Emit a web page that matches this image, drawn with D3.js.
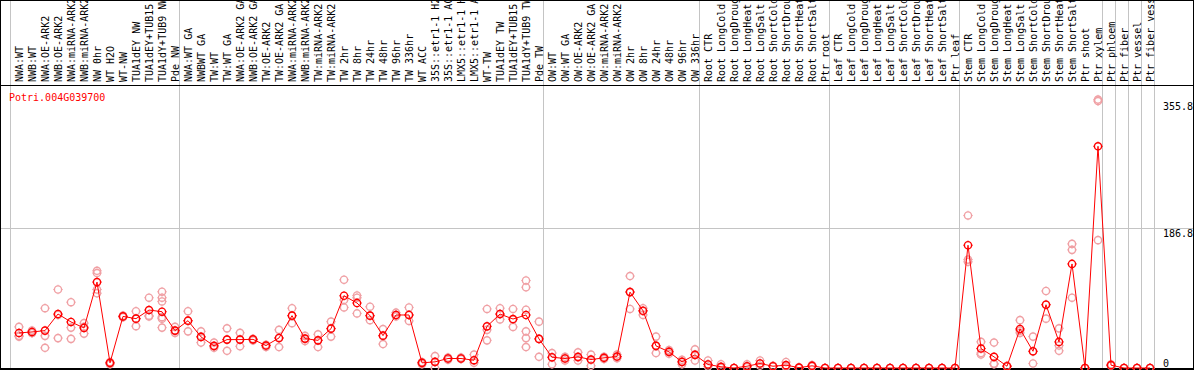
<!DOCTYPE html>
<html>
<head>
<meta charset="utf-8">
<script src="https://cdn.jsdelivr.net/npm/d3@7"></script>
<style>
  body { margin: 0; background: #fff; }
  svg text { font-family: "DejaVu Sans Mono", monospace; font-size: 10px; }
</style>
</head>
<body>
<script>
const width = 1194;
const height = 370;

const geneId = "Potri.004G039700";

const samples = [
  "NWA:WT", "NWB:WT", "NWA:OE-ARK2", "NWB:OE-ARK2", "NWA:miRNA-ARK2", "NWB:miRNA-ARK2",
  "NW 0hr", "WT H2O", "WT-NW", "TUA1dEY NW", "TUA1dEY+TUB15 NW", "TUA1dY+TUB9 NW", "Pde NW",
  "NWA:WT GA", "NWBWT GA", "TW:WT", "TW:WT GA", "NWA:OE-ARK2 GA", "NWB:OE-ARK2 GA",
  "TW:OE-ARK2", "TW:OE-ARK2 GA", "NWA:miRNA-ARK2 GA", "NWB:miRNA-ARK2 GA", "TW:miRNA-ARK2",
  "TW:miRNA-ARK2 GA", "TW 2hr", "TW 8hr", "TW 24hr", "TW 48hr", "TW 96hr", "TW 336hr",
  "WT ACC", "35S::etr1-1 H2O", "35S::etr1-1 ACC", "LMX5::etr1-1 H2O", "LMX5::etr1-1 ACC",
  "WT-TW", "TUA1dEY TW", "TUA1dEY+TUB15 TW", "TUA1dY+TUB9 TW", "Pde TW",
  "OW:WT", "OW:WT GA", "OW:OE-ARK2", "OW:OE-ARK2 GA", "OW:miRNA-ARK2", "OW:miRNA-ARK2 GA",
  "OW 2hr", "OW 8hr", "OW 24hr", "OW 48hr", "OW 96hr", "OW 336hr",
  "Root CTR", "Root LongCold", "Root LongDrought", "Root LongHeat", "Root LongSalt",
  "Root ShortCold", "Root ShortDrought", "Root ShortHeat", "Root ShortSalt", "Ptr root",
  "Leaf CTR", "Leaf LongCold", "Leaf LongDrought", "Leaf LongHeat", "Leaf LongSalt",
  "Leaf ShortCold", "Leaf ShortDrought", "Leaf ShortHeat", "Leaf ShortSalt", "Ptr leaf",
  "Stem CTR", "Stem LongCold", "Stem LongDrought", "Stem LongHeat", "Stem LongSalt",
  "Stem ShortCold", "Stem ShortDrought", "Stem ShortHeat", "Stem ShortSalt", "Ptr shoot",
  "Ptr xylem", "Ptr phloem", "Ptr fiber", "Ptr vessel", "Ptr fiber vessel"
];

const means = [
  46.9, 48.2, 50, 72.2, 61.6, 53.6, 114.9, 6.9, 69, 66,
  77.5, 75.3, 50, 63.3, 41.6, 29.6, 38, 38, 38.3, 30,
  40.2, 70, 39.3, 37, 52.6, 96.6, 86.9, 70, 43.3, 70.9,
  70.9, 6.9, 8.2, 12.7, 12.7, 10.4, 55.7, 72.2, 65.5, 70.9,
  38.9, 14.4, 12.7, 14.9, 11.3, 13.6, 15.3, 101.5, 76.6, 29.6,
  21.6, 8.2, 17.6, 4.7, 1.6, 0, 2.4, 6, 2.4, 3.8,
  0.5, 2.9, 0, 0, 0, 0, 0, 0, 0, 0,
  0, 0, 0, 164.2, 26, 14.9, 2.4, 52.2, 22.4, 84.6,
  34.9, 139.2, 0, 296.5, 3.8, 0, 0, 0
];

const replicates = [
  [55, 43, 42], [50, 47, 47], [80, 43, 27], [105, 71, 40], [88, 54, 39], [60, 55, 46],
  [130, 127, 105, 100], [8, 6, 5], [70, 69, 68], [76, 66, 56], [94, 70, 69],
  [102, 94, 89, 68, 66, 54], [55, 50, 47], [76, 63, 49], [49, 42, 34], [34, 29, 27],
  [53, 38, 23], [47, 38, 29], [39, 38, 37], [31, 30, 28], [51, 40, 28], [80, 70, 60],
  [43, 39, 36], [45, 37, 28], [62, 53, 42], [118, 91, 81], [97, 94, 73], [82, 70, 64],
  [52, 43, 32], [74, 71, 69], [81, 71, 63], [8, 7, 5], [16, 8, 0], [14, 13, 11],
  [14, 13, 12], [18, 10, 7], [79, 51, 37], [80, 72, 65], [79, 65, 55],
  [117, 108, 78, 49, 40, 28], [62, 39, 15], [20, 14, 5], [15, 13, 10], [21, 14, 10],
  [18, 11, 3], [15, 14, 12], [18, 15, 13], [123, 102, 79], [80, 76, 71], [42, 30, 20],
  [24, 22, 19], [11, 8, 5], [25, 18, 10], [10, 5, 2], [5, 1, 0], [0, 0, 0], [5, 2, 1],
  [10, 6, 3], [3, 2, 2], [8, 3, 1], [1, 0, 0], [4, 3, 2], [0, 0, 0],
  [0, 0, 0], [0, 0, 0], [0, 0, 0], [0, 0, 0], [0, 0, 0], [0, 0, 0], [0, 0, 0],
  [0, 0, 0], [0, 0, 0], [0, 0, 0],
  [204, 145, 142], [35, 20, 18], [34, 6, 5], [3, 2, 2], [64, 50, 47], [42, 22, 6],
  [103, 85, 66], [53, 30, 23], [166, 158, 94], [0, 0, 0], [359, 357, 171], [5, 4, 3],
  [0, 0, 0], [0, 0, 0], [0, 0, 0]
];

const tickValues = [0, 186.8, 355.8];
const gridValues = [186.8];
// index of the first sample of each block (last one closes the table)
const groupStarts = [0, 13, 41, 53, 63, 73, 84, 85, 86, 87, 88];

const svg = d3.select("body").append("svg")
  .attr("width", width)
  .attr("height", height);

const x = d3.scaleBand()
  .domain(d3.range(samples.length))
  .range([10, 10 + 13 * samples.length]);
const edge = (k) => x.range()[0] + k * x.step();
const cx = (i) => x(i) + 9;

const y = d3.scaleLinear().domain([0, 378.5]).range([368, 85]);

// grid
svg.append("g")
  .selectAll("line")
  .data(groupStarts)
  .enter()
  .append("line")
  .attr("x1", (k) => Math.round(edge(k)) + 0.5)
  .attr("x2", (k) => Math.round(edge(k)) + 0.5)
  .attr("y1", 0)
  .attr("y2", height)
  .attr("stroke", "#c4c4c4");

svg.append("g")
  .selectAll("line")
  .data(gridValues)
  .enter()
  .append("line")
  .attr("x1", 0)
  .attr("x2", width)
  .attr("y1", (d) => Math.round(y(d)) + 0.5)
  .attr("y2", (d) => Math.round(y(d)) + 0.5)
  .attr("stroke", "#c4c4c4");

// frame
svg.append("rect")
  .attr("x", 0.5)
  .attr("y", 0.5)
  .attr("width", width - 1)
  .attr("height", height - 1.5)
  .attr("fill", "none")
  .attr("stroke", "black");
svg.append("line")
  .attr("x1", 0).attr("x2", width)
  .attr("y1", 85.5).attr("y2", 85.5)
  .attr("stroke", "black");
svg.append("line")
  .attr("x1", 0).attr("x2", width)
  .attr("y1", 369).attr("y2", 369)
  .attr("stroke", "black")
  .attr("stroke-width", 2);

// sample labels
svg.append("g")
  .selectAll("text")
  .data(samples)
  .enter()
  .append("text")
  .attr("transform", (d, i) => "translate(" + (cx(i) + 3.5) + ",82) rotate(-90)")
  .attr("fill", "black")
  .text((d) => d);

svg.append("text")
  .attr("x", 9)
  .attr("y", 101)
  .attr("fill", "red")
  .text(geneId);

// right axis
svg.append("g")
  .attr("transform", "translate(1163,0)")
  .call(d3.axisRight(y).tickValues(tickValues).tickSize(0).tickPadding(0)
    .tickFormat((d) => (d === 0 ? "0" : d3.format(".1f")(d))))
  .call((g) => g.select(".domain").remove())
  .call((g) => g.selectAll("text")
    .attr("font-family", "DejaVu Sans Mono, monospace")
    .attr("font-size", 10)
    .attr("dy", (d) => (d === 0 ? "-0.2em" : "0.8em")));

const spikes = "M0,-4.8V-3.6M0,3.6V4.8M-4.8,0H-3.6M3.6,0H4.8";

function marker(sel, color) {
  sel.append("circle")
    .attr("r", 3.6)
    .attr("fill", "none")
    .attr("stroke", color)
    .attr("stroke-width", 1.4);
  sel.append("path")
    .attr("d", spikes)
    .attr("stroke", color)
    .attr("stroke-width", 0.8);
}

// replicates
const reps = [];
replicates.forEach((vals, i) => vals.forEach((v) => reps.push({ i: i, v: v })));

svg.append("g")
  .selectAll("g")
  .data(reps)
  .enter()
  .append("g")
  .attr("transform", (d) => "translate(" + cx(d.i) + "," + y(d.v) + ")")
  .call(marker, "#f0a0a4");

// mean line
const line = d3.line()
  .x((d, i) => cx(i))
  .y((d) => y(d));

svg.append("path")
  .datum(means)
  .attr("d", line)
  .attr("fill", "none")
  .attr("stroke", "red")
  .attr("stroke-width", 1);

svg.append("g")
  .selectAll("g")
  .data(means)
  .enter()
  .append("g")
  .attr("transform", (d, i) => "translate(" + cx(i) + "," + y(d) + ")")
  .call(marker, "red");
</script>
</body>
</html>
